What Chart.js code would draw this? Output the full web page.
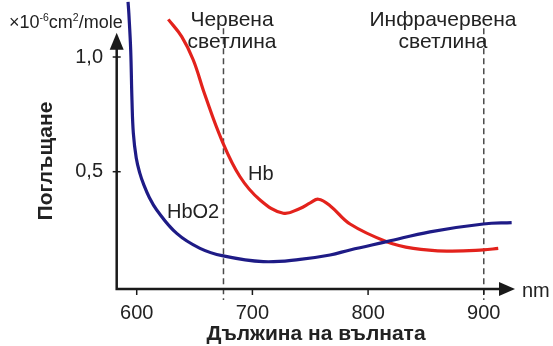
<!DOCTYPE html>
<html>
<head>
<meta charset="utf-8">
<script src="https://cdn.jsdelivr.net/npm/chart.js@4/dist/chart.umd.min.js"></script>
<style>
  html, body { margin: 0; padding: 0; background: #fff; }
  #wrap { width: 553px; height: 346px; }
</style>
</head>
<body>
<div id="wrap"><canvas id="absorptionChart"></canvas></div>
<script>
// wavelength (nm) and absorption (x10^-6 cm2/mole)
const hbo2Nm  = [592.5, 593.2, 594.8, 595.9, 597.1, 599.6, 602.6, 606.0, 610.9, 617.3, 634.6, 654.7, 674.8, 709.4, 741.2, 767.1, 784.4, 816.1, 853.5, 899.6, 924.1];
const hbo2Val = [1.24, 1.190, 1.030, 0.812, 0.667, 0.560, 0.495, 0.445, 0.388, 0.333, 0.231, 0.166, 0.133, 0.108, 0.118, 0.137, 0.159, 0.195, 0.238, 0.272, 0.278];

const hbNm  = [627.3, 638.9, 648.9, 659.0, 673.5, 689.3, 706.6, 726.7, 741.1, 750.0, 757.0, 767.1, 784.4, 816.1, 839.1, 868.0, 899.6, 912.5];
const hbVal = [1.164, 1.089, 0.987, 0.834, 0.638, 0.478, 0.377, 0.319, 0.340, 0.364, 0.380, 0.352, 0.272, 0.195, 0.166, 0.154, 0.159, 0.166];

const xTicks = [600, 700, 800, 900];
const yTicks = [0.5, 1.0];
const markerNm = [675, 900];
const markerLabels = [['Червена', 'светлина'], ['Инфрачервена', 'светлина']];

const FONT = '"Liberation Sans", Arial, sans-serif';
const INK = '#1a1a1a';

const toPoints = (xs, ys) => xs.map((v, i) => ({ x: v, y: ys[i] }));

const decor = {
  id: 'decor',
  beforeDatasetsDraw(chart) {
    const { ctx, scales: { x, y } } = chart;
    ctx.save();
    ctx.strokeStyle = '#4a4a4a';
    ctx.lineWidth = 1.5;
    ctx.setLineDash([6, 4]);
    markerNm.forEach(v => {
      const px = x.getPixelForValue(v);
      ctx.beginPath();
      ctx.moveTo(px, y.getPixelForValue(1.125));
      ctx.lineTo(px, y.bottom + 11);
      ctx.stroke();
    });
    ctx.restore();
  },
  afterDatasetsDraw(chart) {
    const { ctx, scales: { x, y } } = chart;
    const left = x.left, bottom = y.bottom;
    const yTop = y.getPixelForValue(1.106);
    const xEnd = x.getPixelForValue(927);
    ctx.save();
    ctx.strokeStyle = INK;
    ctx.fillStyle = INK;
    ctx.lineWidth = 2.5;
    ctx.beginPath();
    ctx.moveTo(left, yTop + 10);
    ctx.lineTo(left, bottom);
    ctx.lineTo(xEnd - 10, bottom);
    ctx.stroke();
    // arrow heads
    ctx.beginPath();
    ctx.moveTo(left, yTop);
    ctx.lineTo(left - 7, yTop + 17);
    ctx.lineTo(left + 7, yTop + 17);
    ctx.closePath();
    ctx.fill();
    ctx.beginPath();
    ctx.moveTo(xEnd, bottom);
    ctx.lineTo(xEnd - 16, bottom - 7);
    ctx.lineTo(xEnd - 16, bottom + 7);
    ctx.closePath();
    ctx.fill();
    // tick marks
    ctx.lineWidth = 1.5;
    xTicks.forEach(v => {
      const px = x.getPixelForValue(v);
      ctx.beginPath();
      ctx.moveTo(px, bottom);
      ctx.lineTo(px, bottom + 6);
      ctx.stroke();
    });
    yTicks.forEach(v => {
      const py = y.getPixelForValue(v);
      ctx.beginPath();
      ctx.moveTo(left - 4, py);
      ctx.lineTo(left + 4, py);
      ctx.stroke();
    });

    // texts
    ctx.fillStyle = '#222';
    ctx.textBaseline = 'alphabetic';
    ctx.textAlign = 'center';
    ctx.font = '21px ' + FONT;
    markerLabels.forEach((lines, i) => {
      const cx = i === 0 ? 232 : 443;
      ctx.fillText(lines[0], cx, 26);
      ctx.fillText(lines[1], cx, 48);
    });
    ctx.font = '20px ' + FONT;
    ctx.textAlign = 'left';
    ctx.fillText('Hb', 248, 180);
    ctx.fillText('HbO2', 167, 218);
    ctx.textBaseline = 'middle';
    ctx.fillText('nm', 522, 291);

    // unit label ×10⁻⁶cm²/mole
    ctx.textBaseline = 'alphabetic';
    let ux = 9;
    const part = (t, size, dy) => {
      ctx.font = size + 'px ' + FONT;
      ctx.fillText(t, ux, 28 + dy);
      ux += ctx.measureText(t).width;
    };
    part('×10', 18, 0);
    part('-6', 10.5, -7);
    part('cm', 18, 0);
    part('2', 10.5, -7);
    part('/mole', 18, 0);

    // axis titles
    ctx.font = 'bold 21px ' + FONT;
    ctx.textAlign = 'center';
    ctx.fillText('Дължина на вълната', 316, 340);
    ctx.translate(46, 161);
    ctx.rotate(-Math.PI / 2);
    ctx.textBaseline = 'middle';
    ctx.fillText('Поглъщане', 0, 0);
    ctx.restore();
  }
};

new Chart(document.getElementById('absorptionChart').getContext('2d'), {
  type: 'line',
  data: {
    datasets: [
      {
        label: 'HbO2',
        data: toPoints(hbo2Nm, hbo2Val),
        borderColor: '#1e1b86',
        borderWidth: 3.2,
        pointRadius: 0,
        tension: 0.4,
        fill: false
      },
      {
        label: 'Hb',
        data: toPoints(hbNm, hbVal),
        borderColor: '#e3221c',
        borderWidth: 3.2,
        pointRadius: 0,
        tension: 0.4,
        fill: false
      }
    ]
  },
  options: {
    responsive: true,
    maintainAspectRatio: false,
    animation: false,
    layout: { padding: { left: 0, right: 13, top: 0, bottom: 0 } },
    scales: {
      x: {
        type: 'linear',
        min: 582.7,
        max: 948.6,
        afterFit: s => { s.height = 57; s.paddingLeft = 0; s.paddingRight = 0; },
        afterBuildTicks: s => { s.ticks = xTicks.map(v => ({ value: v })); },
        grid: { display: false, drawTicks: false },
        border: { display: false },
        ticks: { color: '#222', font: { family: FONT, size: 20 }, padding: 12, maxRotation: 0 }
      },
      y: {
        type: 'linear',
        min: -0.0113,
        max: 1.2485,
        afterFit: s => { s.width = 116.7; s.paddingTop = 0; s.paddingBottom = 0; },
        afterBuildTicks: s => { s.ticks = yTicks.map(v => ({ value: v })); },
        grid: { display: false, drawTicks: false },
        border: { display: false },
        ticks: {
          color: '#222',
          font: { family: FONT, size: 20 },
          padding: 13.7,
          callback: v => v.toFixed(1).replace('.', ',')
        }
      }
    },
    plugins: {
      legend: { display: false },
      tooltip: { enabled: false }
    }
  },
  plugins: [decor]
});
</script>
</body>
</html>
